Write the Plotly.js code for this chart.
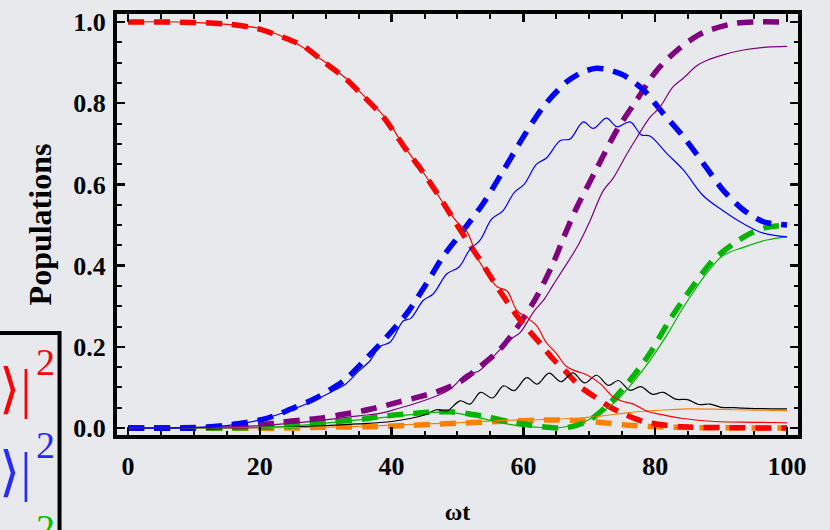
<!DOCTYPE html>
<html>
<head>
<meta charset="utf-8">
<script src="https://cdn.plot.ly/plotly-3.0.1.min.js"></script>
<style>html,body{margin:0;padding:0;background:#e7e9ed;}#chart{width:830px;height:530px;}</style>
</head>
<body>
<div id="chart"></div>
<script>
// ---- data ----
var redDashX = [0,10,15,19.6,23.6,26.7,29.7,32.7,35.8,38.8,41.8,44.9,47.9,50.4,53.4,56.4,59.5,62.5,64.5,66.5,68.6,71,73.1,75.5,78.2,81,84.2,90,100];
var redDashY = [1.0,0.999,0.995,0.984,0.962,0.94,0.902,0.865,0.816,0.765,0.695,0.627,0.553,0.488,0.414,0.338,0.266,0.209,0.17,0.138,0.102,0.075,0.052,0.033,0.016,0.008,0.003,0.001,0];
var redThinX = [0,10,20,25,30,33,36,39,42,45,48,50,51.5,53,54.5,56,57.5,59,60.7,62,63.5,65,66.5,68,69.5,71.6,73.6,75,76.5,79,81,84,89,95,100];
var redThinY = [1.0,0.999,0.984,0.952,0.9,0.862,0.815,0.765,0.692,0.625,0.55,0.506,0.482,0.42,0.38,0.348,0.338,0.29,0.27,0.252,0.21,0.184,0.152,0.14,0.132,0.11,0.077,0.066,0.06,0.04,0.033,0.024,0.016,0.014,0.013];

var blueDashX = [0,10,15,20.6,23,24.6,28.3,32.7,36.1,39.3,42.3,45.3,47.8,50.4,53.9,57,60,63,66.6,69,71.1,73,75.2,78.2,81.2,84.3,87.3,90.3,93.4,96.4,100];
var blueDashY = [0,0.0,0.007,0.022,0.035,0.046,0.072,0.116,0.17,0.225,0.282,0.356,0.422,0.477,0.553,0.635,0.717,0.791,0.853,0.877,0.886,0.882,0.869,0.833,0.775,0.717,0.652,0.586,0.537,0.508,0.5];
var blueThinX = [0,10,15,20,24,28,31,33,35,36.7,38.2,39.8,41.8,42.9,44.8,46.3,48.4,50.2,51.9,53.4,55.2,56.9,58.6,60.1,62,63.5,65.6,67.1,69.1,70.6,72.6,74.2,76.2,77.9,79.2,81.7,84.3,87.3,90.3,93.4,96.4,100];
var blueThinY = [0,0.001,0.006,0.02,0.04,0.066,0.09,0.108,0.14,0.165,0.2,0.212,0.264,0.27,0.314,0.33,0.38,0.396,0.44,0.462,0.515,0.535,0.58,0.6,0.65,0.665,0.708,0.712,0.754,0.738,0.763,0.742,0.754,0.722,0.719,0.677,0.635,0.572,0.535,0.503,0.48,0.471];

var purpleDashX = [0,10,15,20,23,26.7,29.5,32,35.5,38.5,41.3,44,46.8,50.4,53.4,56.4,59.5,62,64.5,66,68,71,74.2,77.2,80.2,83.8,87.3,91.9,95,100];
var purpleDashY = [0,0.001,0.003,0.007,0.014,0.02,0.025,0.032,0.042,0.053,0.065,0.076,0.089,0.114,0.151,0.193,0.258,0.323,0.405,0.465,0.54,0.635,0.734,0.808,0.88,0.937,0.974,0.996,1.0,1.0];
var purpleThinX = [0,15,20,25,30,35,38.2,41,44.3,47,48.9,51.4,53.2,55.9,58,59.5,61.5,63.2,64.5,66,68.3,70.1,72.1,73.6,75.7,77.2,79.2,80.7,82.7,84.3,86.3,87.8,90.3,93.4,96.9,100];
var purpleThinY = [0,0.003,0.006,0.012,0.02,0.03,0.036,0.048,0.064,0.08,0.096,0.133,0.14,0.184,0.218,0.235,0.285,0.318,0.352,0.39,0.45,0.51,0.584,0.615,0.675,0.715,0.765,0.79,0.84,0.862,0.892,0.905,0.919,0.931,0.938,0.94];

var greenDashX = [0,20,26.7,31.2,35.8,38.2,43.3,47,48.9,51.4,54.9,57.5,59.5,61.5,63.5,65.5,67.5,70.1,73.1,76.2,79.2,82.2,85.3,88.8,92,94.4,96.9,100];
var greenDashY = [0,0.001,0.007,0.015,0.022,0.028,0.036,0.04,0.04,0.036,0.026,0.017,0.012,0.006,0.002,0.0,0.004,0.02,0.061,0.118,0.184,0.266,0.34,0.414,0.455,0.479,0.494,0.5];
var greenThinX = [0,20,25,30,35,40,44,47.3,50,53.4,56,59,62,65,67,69.6,72,74,76,78,80,82,84,86,88,90.3,93.4,96.9,100];
var greenThinY = [0,0.002,0.005,0.012,0.02,0.028,0.035,0.039,0.036,0.025,0.015,0.006,0.002,0.0,0.005,0.018,0.04,0.065,0.1,0.14,0.185,0.235,0.29,0.34,0.385,0.425,0.445,0.463,0.471];

var orangeDashX = [0,25,30,36,42,49,56,60,64,67,70,73,76,79,82,86,100];
var orangeDashY = [0,0.0,0.002,0.003,0.006,0.011,0.016,0.018,0.02,0.019,0.016,0.012,0.007,0.004,0.002,0.001,0];
var orangeThinX = [0,25,35,45,50,57,63,68,72,76,79,82,85,90,95,100];
var orangeThinY = [0,0.001,0.004,0.01,0.013,0.019,0.021,0.024,0.03,0.038,0.042,0.045,0.047,0.046,0.044,0.043];

var blackX = [0,20,25,30,35,40,43,45.3,46.8,48.4,50.4,51.9,53.5,55.3,57,58.6,60.5,62.1,63.9,65.7,67.5,69.3,71.1,72.9,74.4,76.2,77.8,79.6,81.2,83.1,84.9,86.6,88.3,90,92,95,100];
var blackY = [0,0.001,0.003,0.006,0.01,0.016,0.024,0.034,0.045,0.042,0.067,0.059,0.088,0.074,0.104,0.092,0.124,0.108,0.135,0.114,0.136,0.111,0.13,0.105,0.117,0.093,0.102,0.083,0.088,0.071,0.07,0.058,0.059,0.051,0.05,0.048,0.047];

var xTickVals = [0,20,40,60,80,100];
var yTickVals = [0.0,0.2,0.4,0.6,0.8,1.0];
var legendLabels = ["|⟨1|ψ⟩|", "|⟨2|ψ⟩|", "|⟨3|ψ⟩|"];
var legendPower = "2";
var legendColors = ["#ff0000", "#2a2aff", "#00c000"];

// ---- traces ----
var RED='#ff0000', BLUE='#0000ff', PURPLE='#800080', GREEN='#00b400', ORANGE='#ff8000';
function dash(x,y,c){return {x:x,y:y,mode:'lines',line:{color:c,width:5.5,dash:'16px,10px',shape:'spline',smoothing:0.8},hoverinfo:'skip',showlegend:false};}
function thin(x,y,c){return {x:x,y:y,mode:'lines',line:{color:c,width:1.2,shape:'spline',smoothing:1.0},hoverinfo:'skip',showlegend:false};}

var traces = [
  dash(orangeDashX, orangeDashY, ORANGE),
  dash(greenDashX, greenDashY, GREEN),
  dash(purpleDashX, purpleDashY, PURPLE),
  dash(blueDashX, blueDashY, BLUE),
  dash(redDashX, redDashY, RED),
  thin(blackX, blackY, '#000000'),
  thin(orangeThinX, orangeThinY, ORANGE),
  thin(greenThinX, greenThinY, GREEN),
  thin(purpleThinX, purpleThinY, PURPLE),
  thin(blueThinX, blueThinY, BLUE),
  thin(redThinX, redThinY, RED)
];

var SERIF = 'Liberation Serif, Times New Roman, serif';
var tickFont = {family:SERIF, size:26, weight:'bold', color:'#000'};
var PW = 681.5, PH = 421, L = 117, T = 14;
function px2x(p){return (p-L)/PW;}
function py2y(p){return (T+PH-p)/PH;}

var annotations = [];
legendLabels.forEach(function(t,i){
  annotations.push({xref:'paper', yref:'paper', x:px2x(33), y:py2y(389+83*i), xanchor:'right', yanchor:'middle',
          text:t, showarrow:false, font:{family:SERIF, size:54, color:legendColors[i]}});
  annotations.push({xref:'paper', yref:'paper', x:px2x(57), y:py2y(362+83*i), xanchor:'right', yanchor:'middle',
          text:legendPower, showarrow:false, font:{family:SERIF, size:38, color:legendColors[i]}});
});

var layout = {
  width:830, height:530,
  margin:{l:L, r:830-L-PW, t:T, b:530-T-PH, pad:0},
  paper_bgcolor:'#e7e9ed', plot_bgcolor:'#e7e9ed',
  showlegend:false,
  xaxis:{range:[-1.668,101.67], tickvals:xTickVals, ticktext:xTickVals.map(String),
    ticks:'inside', ticklen:8, tickwidth:2.5, tickcolor:'#000',
    minor:{dtick:5, tick0:0, ticks:'inside', ticklen:4.5, tickwidth:2, tickcolor:'#000'},
    showline:true, linewidth:4, linecolor:'#000', mirror:'allticks',
    showgrid:false, zeroline:false, tickfont:tickFont, ticklabelstandoff:5,
    title:{text:'ωt', font:{family:SERIF, size:24, weight:'bold', color:'#000'}, standoff:24}},
  yaxis:{range:[-0.0172,1.0197], tickvals:yTickVals, ticktext:yTickVals.map(function(v){return v.toFixed(1);}),
    ticks:'inside', ticklen:8, tickwidth:2.5, tickcolor:'#000',
    minor:{dtick:0.05, tick0:0, ticks:'inside', ticklen:4.5, tickwidth:2, tickcolor:'#000'},
    showline:true, linewidth:4, linecolor:'#000', mirror:'allticks',
    showgrid:false, zeroline:false, tickfont:tickFont, ticklabelstandoff:2,
    title:{text:'Populations', font:{family:SERIF, size:32, weight:'bold', color:'#000'}, standoff:13}},
  shapes:[{type:'rect', xref:'paper', yref:'paper', x0:px2x(-30), x1:px2x(59.5), y0:py2y(580), y1:py2y(333),
    line:{color:'#000', width:4}, fillcolor:'rgba(0,0,0,0)', layer:'above'}],
  annotations:annotations
};

Plotly.newPlot('chart', traces, layout, {displayModeBar:false, staticPlot:true});
</script>
</body>
</html>
